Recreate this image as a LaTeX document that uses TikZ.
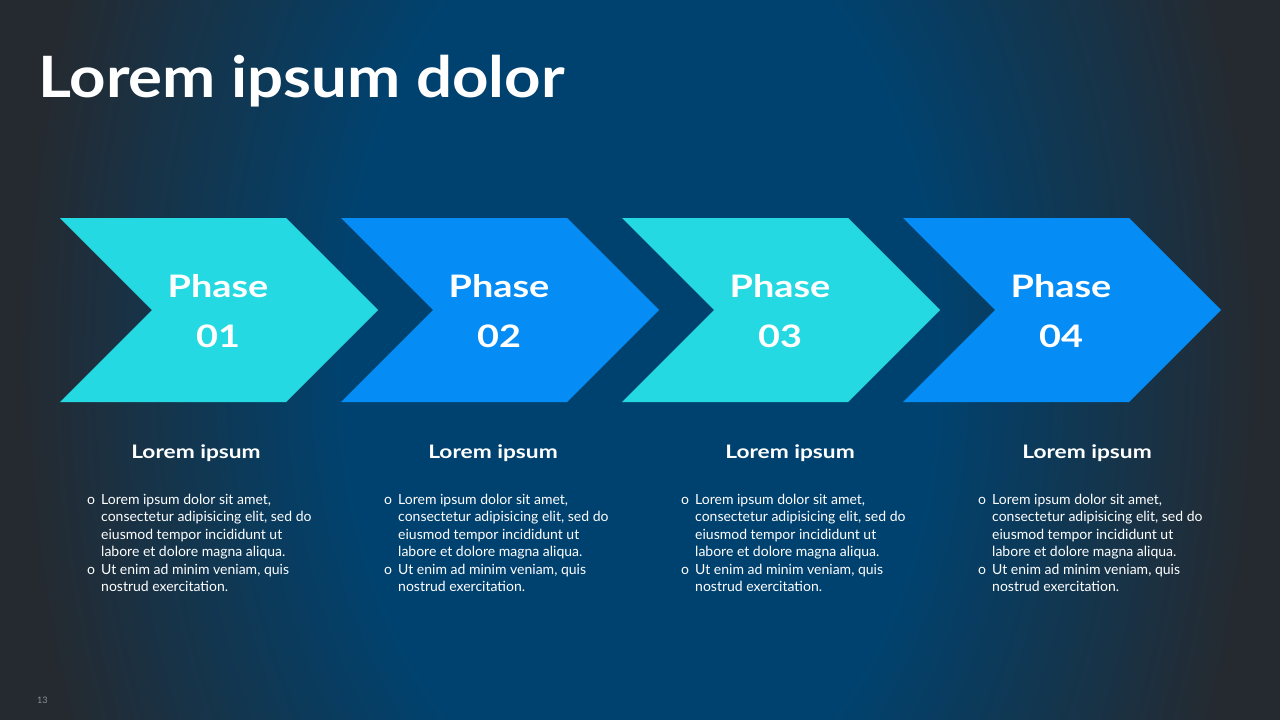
\documentclass[tikz,border=0pt]{standalone}
\usepackage{fontspec}
\setmainfont{Lato}
\newfontfamily\titlefnt{Lato Bold}[FakeStretch=1.115]
\newfontfamily\widebold{Lato Bold}[FakeStretch=1.22]
\definecolor{cyanA}{HTML}{25D9E3}
\definecolor{blueA}{HTML}{058CF5}
\definecolor{bgA}{HTML}{00426F}
\definecolor{bgB}{HTML}{252A30}
\definecolor{pgnum}{HTML}{8A9099}
\tikzset{
  chevcyan/.style={fill=cyanA},
  chevblue/.style={fill=blueA},
  phasetxt/.style={anchor=base, inner sep=0pt, text=white, font=\widebold\fontsize{31}{36}\selectfont},
  headtxt/.style={anchor=base, inner sep=0pt, text=white, font=\widebold\fontsize{18.6}{22}\selectfont},
  bodytxt/.style={anchor=base west, inner sep=0pt, text=white, font=\fontsize{14}{17}\selectfont},
  titletxt/.style={anchor=base west, inner sep=0pt, text=white, font=\titlefnt\fontsize{57}{66}\selectfont},
}
\newcommand\mychev[2]{\fill[#2] (#1,218) -- ++(226,0) -- ++(92,92) -- ++(-92,92) -- ++(-226,0) -- ++(92,-92) -- cycle;}
\begin{document}
\begin{tikzpicture}[x=1pt,y=-1pt]
\useasboundingbox (0,0) rectangle (1280,720);
\begin{scope}
  \clip (0,0) rectangle (1280,720);
  \fill[bgB] (0,0) rectangle (1280,720);
  \foreach \i in {0,...,64} {
    \pgfmathsetmacro\rx{620-\i*5}
    \pgfmathsetmacro\ry{\rx*1.56}
    \pgfmathsetmacro\t{100*\i/64}
    \fill[bgA!\t!bgB] (640,360) ellipse [x radius=\rx, y radius=\ry];
  }
\end{scope}
\node[titletxt] (title) at (38,97.7) {Lorem ipsum dolor};
\mychev{60}{chevcyan}
\mychev{341}{chevblue}
\mychev{622}{chevcyan}
\mychev{903}{chevblue}
\foreach \x/\n [count=\k] in {60/01,341/02,622/03,903/04} {
  \node[phasetxt] (ph\k) at (\x+158,297) {Phase};
  \node[phasetxt] (num\k) at (\x+158,347) {\n};
}
\foreach \cx [count=\k] in {87,384,681,978} {
  \node[headtxt] (head\k) at (\cx+109,458.5) {Lorem ipsum};
  \node[bodytxt] (bulA\k) at (\cx,504) {o};
  \node[bodytxt] (lA\k) at (\cx+14,504) {Lorem ipsum dolor sit amet,};
  \node[bodytxt] (lB\k) at (\cx+14,521.5) {consectetur adipisicing elit, sed do};
  \node[bodytxt] (lC\k) at (\cx+14,539) {eiusmod tempor incididunt ut};
  \node[bodytxt] (lD\k) at (\cx+14,556.5) {labore et dolore magna aliqua.};
  \node[bodytxt] (bulB\k) at (\cx,574) {o};
  \node[bodytxt] (lE\k) at (\cx+14,574) {Ut enim ad minim veniam, quis};
  \node[bodytxt] (lF\k) at (\cx+14,591.5) {nostrud exercitation.};
}
\node[anchor=base west, inner sep=0pt, text=pgnum, font=\fontsize{9}{10}\selectfont] (pg) at (37,703) {13};
\end{tikzpicture}
\end{document}
